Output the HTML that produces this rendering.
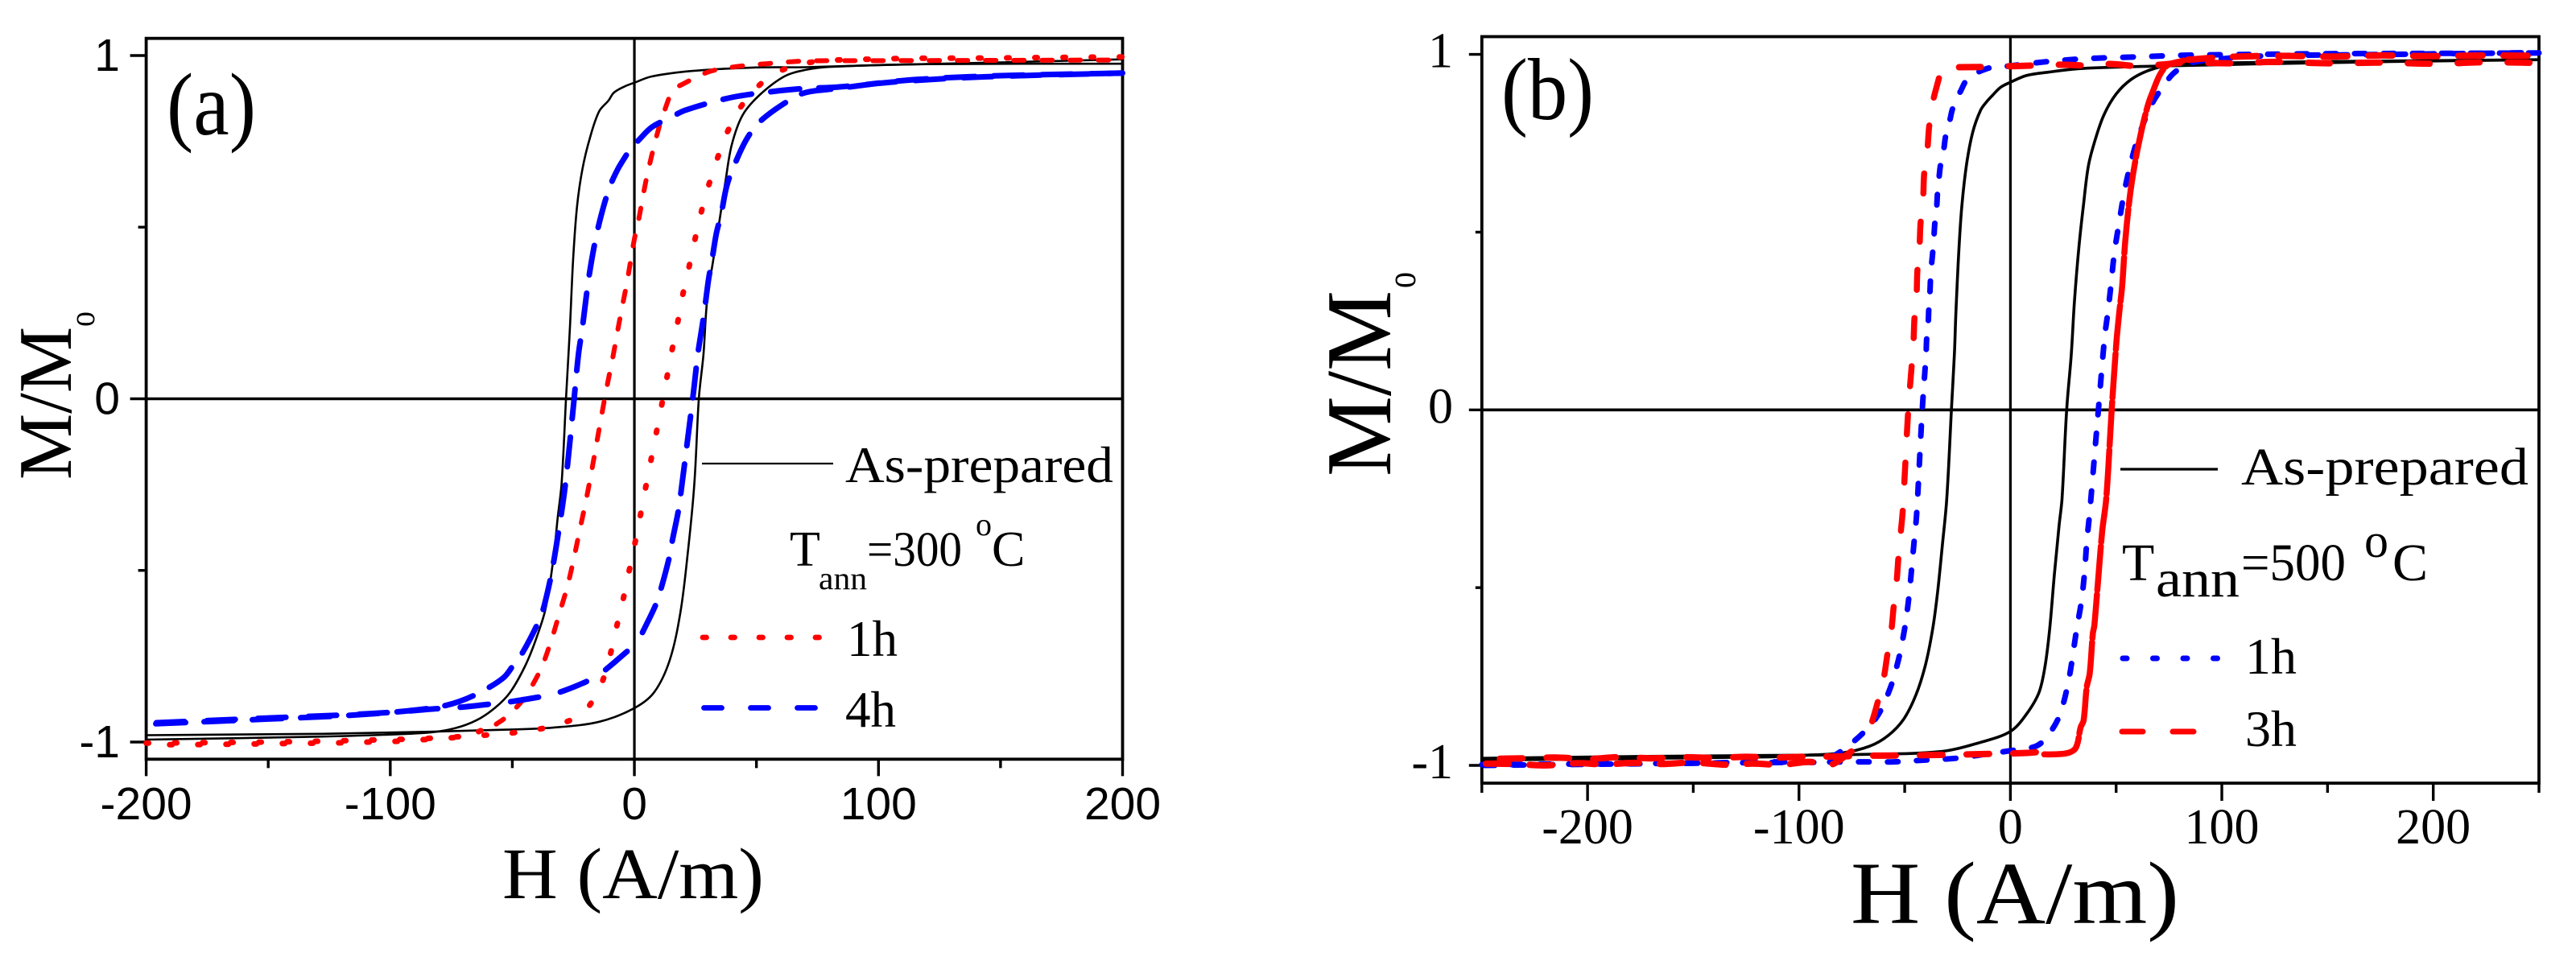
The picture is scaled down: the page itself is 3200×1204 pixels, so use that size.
<!DOCTYPE html>
<html>
<head>
<meta charset="utf-8">
<title>Hysteresis loops</title>
<style>
html,body{margin:0;padding:0;background:#fff;}
svg{display:block;}
text{fill:#000;font-family:"Liberation Serif",serif;}
.sans{font-family:"Liberation Sans",sans-serif;}
</style>
</head>
<body>
<svg id="figure" xmlns="http://www.w3.org/2000/svg" width="3200" height="1204" viewBox="0 0 3200 1204">
<rect x="0" y="0" width="3200" height="1204" fill="#fff"/>
<g id="panelA"></g>
<g id="panelB"></g>

<g>
<text x="207" y="167" font-size="110" textLength="111" lengthAdjust="spacingAndGlyphs">(a)</text>
<text x="624" y="1116" font-size="90" textLength="325" lengthAdjust="spacingAndGlyphs">H (A/m)</text>
<text transform="translate(88,596) rotate(-90)" font-size="94" textLength="190" lengthAdjust="spacingAndGlyphs">M/M</text>
<text transform="translate(117,406) rotate(-90)" font-size="46" textLength="19" lengthAdjust="spacingAndGlyphs">o</text>
<text x="1050" y="599" font-size="64" textLength="333" lengthAdjust="spacingAndGlyphs">As-prepared</text>
<text x="981" y="703" font-size="62">T</text>
<text x="1017" y="732" font-size="40" textLength="60" lengthAdjust="spacingAndGlyphs">ann</text>
<text x="1077" y="703" font-size="61" textLength="118" lengthAdjust="spacingAndGlyphs">=300</text>
<text x="1212" y="665" font-size="40">o</text>
<text x="1232" y="703" font-size="62">C</text>
<text x="1052" y="815" font-size="63">1h</text>
<text x="1050" y="903" font-size="63">4h</text>
</g>

<g>
<text x="1865" y="148" font-size="109" textLength="115" lengthAdjust="spacingAndGlyphs">(b)</text>
<text x="2299" y="1147" font-size="110" textLength="408" lengthAdjust="spacingAndGlyphs">H (A/m)</text>
<text transform="translate(1727,592) rotate(-90)" font-size="115" textLength="231" lengthAdjust="spacingAndGlyphs">M/M</text>
<text transform="translate(1758,358) rotate(-90)" font-size="52" textLength="20" lengthAdjust="spacingAndGlyphs">o</text>
<text x="2784" y="602" font-size="66" textLength="357" lengthAdjust="spacingAndGlyphs">As-prepared</text>
<text x="2636" y="721" font-size="66">T</text>
<text x="2678" y="741" font-size="66" textLength="104" lengthAdjust="spacingAndGlyphs">ann</text>
<text x="2784" y="721" font-size="66" textLength="130" lengthAdjust="spacingAndGlyphs">=500</text>
<text x="2937" y="692" font-size="60">o</text>
<text x="2972" y="721" font-size="66">C</text>
<text x="2789" y="837" font-size="64">1h</text>
<text x="2789" y="927" font-size="64">3h</text>
</g>
</svg>

<script>
/* ---------- panel (a) tick data ---------- */
var aXMajor = [-200,-100,0,100,200];
var aXMinor = [-150,-50,50,150];
var aYMajor = [-1,0,1];
var aYMinor = [-0.5,0.5];
var aXLabels = ["-200","-100","0","100","200"];
var aYLabels = ["-1","0","1"];

/* ---------- panel (a) series ---------- */
var aPreparedDownH = [200,150,100,70,48.8,23.5,7.1,0,-4,-8.4,-10.6,-14.4,-18.1,-21.3,-23.5,-25.1,-26.4,-27,-28,-29.8,-31.4,-33.3,-36.4,-40.2,-44.6,-50.9,-57.2,-64.8,-73.6,-83.7,-102.7,-128,-165,-200];
var aPreparedDownM = [0.989,0.98,0.972,0.966,0.965,0.955,0.939,0.921,0.91,0.892,0.869,0.838,0.763,0.669,0.56,0.404,0.208,0.13,0,-0.245,-0.346,-0.472,-0.612,-0.698,-0.776,-0.855,-0.901,-0.937,-0.96,-0.972,-0.979,-0.984,-0.989,-0.993];
var aPreparedUpH = [-200,-128,-83.7,-52.2,-33.3,-14.4,0,8.1,14.5,18.9,22,24.6,26.4,28.3,29.8,32.3,34.9,37.4,39.9,44.3,51.3,61.4,70,80,120,200];
var aPreparedUpM = [-0.98,-0.976,-0.97,-0.964,-0.958,-0.941,-0.901,-0.855,-0.761,-0.62,-0.44,-0.245,0,0.13,0.287,0.404,0.521,0.638,0.74,0.826,0.885,0.939,0.958,0.967,0.975,0.976];

var a1hTopH = [18.5,29.8,39.9,53.8,70,100,150,200];
var a1hTopM = [0.912,0.951,0.966,0.976,0.984,0.985,0.986,0.987];
var a1hSteepH = [14,11.9,10.2,7.1,4.6,1.3,0,-3,-6.2,-8.6,-12.2,-18.8,-22.6,-25,-27.6,-31,-34.5,-38.9,-45.8,-52.5,-56.6];
var a1hSteepM = [0.873,0.83,0.794,0.709,0.63,0.505,0.466,0.341,0.224,0.13,0,-0.26,-0.39,-0.472,-0.55,-0.632,-0.714,-0.796,-0.878,-0.927,-0.948];
var a1hLowH = [-62.9,-67.3,-74.3,-86.3,-97.7,-109,-120,-150,-175,-200];
var a1hLowM = [-0.967,-0.979,-0.987,-0.993,-0.998,-1,-1.002,-1.005,-1.007,-1.008];
var a1hUpH = [-200,-150,-124.2,-112.9,-101.5,-89.9,-78.4,-55.5,-44.3,-32.7,-21.3,-14,-10.3,-7.7,-4.9,-2.5,-0.1,2.1,4.3,11.7,15.3,17.6,19.7,22.2,24.7,27.3,30.5,34.1,38.6,45,55.7,70,100,150,200];
var a1hUpM = [-1.003,-1,-0.997,-0.995,-0.993,-0.991,-0.987,-0.977,-0.968,-0.952,-0.916,-0.838,-0.757,-0.677,-0.594,-0.513,-0.433,-0.353,-0.27,0,0.137,0.217,0.299,0.378,0.46,0.541,0.623,0.702,0.785,0.864,0.939,0.978,0.99,0.993,0.996];

var a4hTopH = [1.4,7.1,14.7,21,39.9,58.9,70,83,110,144,200];
var a4hTopM = [0.751,0.791,0.819,0.841,0.878,0.897,0.904,0.908,0.925,0.938,0.949];
var a4hSteepH = [-3.3,-6.8,-10.2,-13.8,-16.5,-18.8,-21.3,-22.9,-24.7,-28.2,-30.7,-33.9,-37,-38.9,-45.6,-49.7,-53.5,-62.6,-71.8,-81.2,-98.9,-119,-150,-200];
var a4hSteepM = [0.71,0.669,0.615,0.529,0.443,0.346,0.208,0.13,0,-0.245,-0.37,-0.507,-0.604,-0.644,-0.737,-0.777,-0.812,-0.853,-0.882,-0.899,-0.913,-0.923,-0.933,-0.948];
var a4hLowH = [-3,-13.8,-21.3,-33.3,-40.8,-52.2,-59.8,-71.8,-81.2,-98.9,-119,-150,-200];
var a4hLowM = [-0.736,-0.8,-0.829,-0.861,-0.871,-0.884,-0.89,-0.899,-0.903,-0.913,-0.921,-0.93,-0.945];
var a4hUpH = [3.3,8.9,11.2,14.3,15.6,18,19,23.9,26,27.9,28.9,30.4,31.7,33.6,35.5,37.8,40.5,45.8,51.5,62.6,70,83.3,110,143.9,200];
var a4hUpM = [-0.681,-0.598,-0.546,-0.462,-0.411,-0.327,-0.276,0,0.13,0.217,0.267,0.348,0.4,0.482,0.536,0.619,0.673,0.754,0.808,0.866,0.892,0.904,0.927,0.94,0.949];

/* ---------- panel (b) tick data ---------- */
var bXMajor = [-200,-100,0,100,200];
var bXMinor = [-250,-150,-50,50,150,250];
var bYMajor = [-1,0,1];
var bYMinor = [-0.5,0.5];
var bXLabels = ["-200","-100","0","100","200"];
var bYLabels = ["-1","0","1"];

/* ---------- panel (b) series ---------- */
var bPreparedDownH = [250,180,115,90.7,61.6,32.4,17.9,7.7,0.1,-4.5,-8.3,-11.5,-14.1,-17.8,-20.7,-22.9,-24.3,-25.8,-26.5,-27.9,-30.1,-32.3,-34.5,-36.7,-40.3,-44.7,-50.5,-57.8,-66.5,-79.6,-98.5,-113,-180,-250];
var bPreparedDownM = [0.985,0.98,0.973,0.97,0.966,0.96,0.95,0.941,0.922,0.908,0.886,0.865,0.843,0.782,0.692,0.579,0.458,0.269,0.156,0,-0.251,-0.387,-0.516,-0.614,-0.72,-0.802,-0.87,-0.916,-0.946,-0.965,-0.972,-0.976,-0.981,-0.985];
var bPreparedUpH = [-250,-180,-113,-69.4,-33,-14,0.1,7.7,13.5,16.4,18.6,20.8,23,24.4,26.6,28.8,30.3,32.4,34.6,36.8,39.7,44.1,49.9,57.2,65.9,76.1,90.7,150,250];
var bPreparedUpM = [-0.98,-0.975,-0.972,-0.969,-0.961,-0.935,-0.904,-0.855,-0.795,-0.72,-0.614,-0.463,-0.327,-0.251,0,0.156,0.307,0.458,0.579,0.684,0.752,0.828,0.888,0.93,0.956,0.97,0.975,0.98,0.985];

var b1hDownH = [250,200,150,115,84,60,35.4,17.9,-5.4,-11.2,-19.9,-23.6,-27.2,-28.7,-30.6,-31.6,-33.1,-33.8,-34.5,-34.9,-35.7,-36.2,-36.7,-37.4,-37.8,-38.1,-38.6,-38.9,-39.6,-39.9,-41.7,-44.4,-45.7,-46.9,-48.3,-50.2,-53,-57.1,-63.6,-75.2,-88.3,-98.5,-113,-150,-200,-250];
var b1hDownM = [1.004,1.003,1.002,1,0.998,0.993,0.988,0.98,0.964,0.96,0.933,0.896,0.85,0.813,0.771,0.73,0.688,0.65,0.609,0.567,0.527,0.484,0.446,0.401,0.367,0.326,0.284,0.243,0.201,0.156,0,-0.297,-0.38,-0.459,-0.542,-0.621,-0.704,-0.787,-0.867,-0.938,-0.987,-0.991,-0.99,-0.994,-0.997,-1];
var b1hUpH = [-250,-200,-150,-113,-69.4,-54.9,-40.3,-25.8,-11.2,1.9,12.1,17.2,23,27.4,31.4,33.6,35.1,36.1,37.5,41.6,44.5,46.3,47.7,49.2,51.4,53.6,56.5,60.1,66.7,73.2,77.6,84.8,97.9,115,180,250];
var b1hUpM = [-0.998,-0.996,-0.994,-0.992,-0.99,-0.99,-0.985,-0.98,-0.968,-0.957,-0.946,-0.92,-0.863,-0.765,-0.614,-0.538,-0.455,-0.372,-0.289,0,0.201,0.284,0.36,0.443,0.526,0.605,0.684,0.76,0.858,0.918,0.949,0.975,0.986,0.995,1,1.005];

var b3hTopDownH = [-24.3,-12,0.4,12.8,23.7,36.8,47,60.8,71,83.4,105.2,125,150,175,200,225,250];
var b3hTopDownM = [0.964,0.965,0.967,0.969,0.971,0.969,0.973,0.967,0.971,0.977,0.975,0.979,0.975,0.977,0.974,0.978,0.976];
var b3hSteepDownH = [-33.8,-36.7,-38.4,-39.3,-40.8,-41.3,-42.5,-43,-44,-44.4,-45.4,-45.9,-48.3,-50.9,-52,-53,-53.9,-55.2,-56.3,-58.2,-60,-62.9,-66.2];
var b3hSteepDownM = [0.933,0.866,0.798,0.73,0.662,0.594,0.526,0.458,0.39,0.322,0.258,0.186,0,-0.281,-0.353,-0.417,-0.489,-0.553,-0.621,-0.689,-0.757,-0.825,-0.893];
var b3hLowDownH = [-75.2,-85.4,-95,-108,-122,-135,-150,-165,-178,-192,-205,-220,-235,-250];
var b3hLowDownM = [-0.961,-0.999,-0.99,-0.998,-0.995,-0.998,-0.992,-0.996,-0.993,-0.997,-0.994,-1,-0.996,-0.995];
var b3hLowUpH = [12,8,-12,-30,-50,-70,-82,-95,-110,-125,-140,-155,-170,-185,-200,-215,-230,-250];
var b3hLowUpM = [-0.963,-0.965,-0.968,-0.97,-0.972,-0.973,-0.975,-0.975,-0.978,-0.976,-0.979,-0.977,-0.98,-0.977,-0.982,-0.978,-0.98,-0.982];
var b3hSteepUpH = [16,20.1,27.3,31,33.2,34.6,36.1,37.5,39,39.7,41.5,43.4,45.3,47.9,50.2,51.4,52.8,54.3,56.5,58.6,60.8,63.7,66.6,73.2,81.9];
var b3hSteepUpM = [-0.969,-0.969,-0.965,-0.95,-0.893,-0.874,-0.78,-0.742,-0.629,-0.606,-0.478,-0.342,-0.251,0,0.194,0.269,0.345,0.473,0.601,0.684,0.752,0.828,0.884,0.964,0.983];
var b3hTopUpH = [84,100,125,150,175,200,225,250];
var b3hTopUpM = [0.985,0.992,0.996,0.994,0.997,0.995,0.997,0.996];

var NS = "http://www.w3.org/2000/svg";

function scale(d0, d1, r0, r1) {
  return function (v) { return r0 + (v - d0) * (r1 - r0) / (d1 - d0); };
}
function el(tag, parent) {
  var e = document.createElementNS(NS, tag);
  parent.appendChild(e);
  return e;
}
/* Smooth path through data points: tangent from neighbours, handle length limited by the adjoining segment. */
function curvePath(hs, ms, sx, sy) {
  var pts = [], i;
  for (i = 0; i < hs.length; i++) pts.push([sx(hs[i]), sy(ms[i])]);
  function dir(k) {
    var a = pts[Math.max(k - 1, 0)], b = pts[Math.min(k + 1, pts.length - 1)];
    var dx = b[0] - a[0], dy = b[1] - a[1], n = Math.sqrt(dx * dx + dy * dy) || 1;
    return [dx / n, dy / n];
  }
  var d = "M" + pts[0][0].toFixed(1) + " " + pts[0][1].toFixed(1);
  for (i = 0; i < pts.length - 1; i++) {
    var p = pts[i], q = pts[i + 1];
    var len = Math.sqrt((q[0] - p[0]) * (q[0] - p[0]) + (q[1] - p[1]) * (q[1] - p[1])) / 3;
    var t0 = dir(i), t1 = dir(i + 1);
    d += "C" + (p[0] + t0[0] * len).toFixed(1) + " " + (p[1] + t0[1] * len).toFixed(1) + " " +
         (q[0] - t1[0] * len).toFixed(1) + " " + (q[1] - t1[1] * len).toFixed(1) + " " +
         q[0].toFixed(1) + " " + q[1].toFixed(1);
  }
  return d;
}
function drawCurve(g, name, hs, ms, sx, sy, color, width, dash) {
  var p = el("path", g);
  
  
  p.setAttribute("d", curvePath(hs, ms, sx, sy));
  p.setAttribute("fill", "none");
  p.setAttribute("stroke", color);
  p.setAttribute("stroke-width", width);
  p.setAttribute("stroke-linejoin", "round");
  p.setAttribute("stroke-linecap", "round");
  if (dash) p.setAttribute("stroke-dasharray", dash);
}
function drawLine(g, name, x1, y1, x2, y2, color, width, dash) {
  var l = el("line", g);
  
  
  l.setAttribute("x1", x1);
  l.setAttribute("y1", y1);
  l.setAttribute("x2", x2);
  l.setAttribute("y2", y2);
  l.setAttribute("stroke", color);
  l.setAttribute("stroke-width", width);
  if (dash) {
    l.setAttribute("stroke-dasharray", dash);
    l.setAttribute("stroke-linecap", "round");
  }
}
function drawLabel(g, name, x, y, str, size, anchor, cls) {
  var t = el("text", g);
  
  
  t.setAttribute("x", x);
  t.setAttribute("y", y);
  t.setAttribute("font-size", size);
  t.setAttribute("text-anchor", anchor);
  if (cls) t.setAttribute("class", cls);
  t.textContent = str;
}
function drawAxes(g, o) {
  var top = o.sy(1.05), bot = o.sy(-1.05), lef = o.sx(o.xMin), rig = o.sx(o.xMax), i;
  drawLine(g, "zero-line-horizontal", lef, o.sy(0), rig, o.sy(0), "#000", 3.6);
  drawLine(g, "zero-line-vertical", o.sx(0), top, o.sx(0), bot, "#000", 3.2);
  for (i = 0; i < o.xMajor.length; i++) {
    drawLine(g, "x-tick-major", o.sx(o.xMajor[i]), bot, o.sx(o.xMajor[i]), bot + o.xMajorLen, "#000", 3.4);
    drawLabel(g, "x-tick-label", o.sx(o.xMajor[i]), o.xLabelY, o.xLabels[i], o.tickSize, "middle", o.tickClass);
  }
  for (i = 0; i < o.xMinor.length; i++) {
    drawLine(g, "x-tick-minor", o.sx(o.xMinor[i]), bot, o.sx(o.xMinor[i]), bot + o.xMinorLen, "#000", 3.4);
  }
  for (i = 0; i < o.yMajor.length; i++) {
    drawLine(g, "y-tick-major", lef - o.yMajorLen, o.sy(o.yMajor[i]), lef, o.sy(o.yMajor[i]), "#000", 3.4);
    drawLabel(g, "y-tick-label", o.yLabelX, o.sy(o.yMajor[i]) + o.yLabelDy, o.yLabels[i], o.tickSize, "end", o.tickClass);
  }
  for (i = 0; i < o.yMinor.length; i++) {
    drawLine(g, "y-tick-minor", lef - o.yMinorLen, o.sy(o.yMinor[i]), lef, o.sy(o.yMinor[i]), "#000", 3.4);
  }
  var r = el("rect", g);
  
  
  r.setAttribute("x", lef);
  r.setAttribute("y", top);
  r.setAttribute("width", rig - lef);
  r.setAttribute("height", bot - top);
  r.setAttribute("fill", "none");
  r.setAttribute("stroke", "#000");
  r.setAttribute("stroke-width", 3.8);
}

/* panel (a) */
var ax = scale(-200, 200, 181.6, 1394.5);
var ay = scale(-1, 1, 922, 69);
var ga = document.getElementById("panelA");
drawAxes(ga, {sx: ax, sy: ay, xMin: -200, xMax: 200, xMajor: aXMajor, xMinor: aXMinor, yMajor: aYMajor, yMinor: aYMinor,
  xLabels: aXLabels, yLabels: aYLabels, xMajorLen: 21, xMinorLen: 11, yMajorLen: 20, yMinorLen: 10,
  xLabelY: 1018, yLabelX: 149, yLabelDy: 19, tickSize: 57, tickClass: "sans"});
drawCurve(ga, "as-prepared-descending", aPreparedDownH, aPreparedDownM, ax, ay, "#000", 2.6);
drawCurve(ga, "as-prepared-ascending", aPreparedUpH, aPreparedUpM, ax, ay, "#000", 2.6);
drawCurve(ga, "anneal-1h-top", a1hTopH, a1hTopM, ax, ay, "#f00", 6, "13 22");
drawCurve(ga, "anneal-1h-descending", a1hSteepH, a1hSteepM, ax, ay, "#f00", 6, "13 22");
drawCurve(ga, "anneal-1h-low-plateau", a1hLowH, a1hLowM, ax, ay, "#f00", 7, "3 32");
drawCurve(ga, "anneal-1h-ascending", a1hUpH, a1hUpM, ax, ay, "#f00", 7, "3 32");
drawCurve(ga, "anneal-4h-top", a4hTopH, a4hTopM, ax, ay, "#00f", 7, "36 24");
drawCurve(ga, "anneal-4h-descending", a4hSteepH, a4hSteepM, ax, ay, "#00f", 7, "37 23");
drawCurve(ga, "anneal-4h-low", a4hLowH, a4hLowM, ax, ay, "#00f", 7, "35 28");
drawCurve(ga, "anneal-4h-ascending", a4hUpH, a4hUpM, ax, ay, "#00f", 7, "37 23");
drawLine(ga, "legend-line-as-prepared", 872, 576, 1035, 576, "#000", 2.2);
drawLine(ga, "legend-line-1h", 873, 792, 1022, 792, "#f00", 6.8, "4.5 30.5");
drawLine(ga, "legend-line-4h", 874.5, 879.5, 1014, 879.5, "#00f", 6.8, "22 36");

/* panel (b) */
var bx = scale(-250, 250, 1840.8, 3154);
var by = scale(-1, 1, 951, 67.6);
var gb = document.getElementById("panelB");
drawAxes(gb, {sx: bx, sy: by, xMin: -250, xMax: 250, xMajor: bXMajor, xMinor: bXMinor, yMajor: bYMajor, yMinor: bYMinor,
  xLabels: bXLabels, yLabels: bYLabels, xMajorLen: 22, xMinorLen: 12, yMajorLen: 16, yMinorLen: 8,
  xLabelY: 1048, yLabelX: 1805, yLabelDy: 16, tickSize: 62, tickClass: ""});
drawCurve(gb, "as-prepared-descending", bPreparedDownH, bPreparedDownM, bx, by, "#000", 3.6);
drawCurve(gb, "as-prepared-ascending", bPreparedUpH, bPreparedUpM, bx, by, "#000", 3.6);
drawCurve(gb, "anneal-1h-descending", b1hDownH, b1hDownM, bx, by, "#00f", 7, "13 23");
drawCurve(gb, "anneal-1h-ascending", b1hUpH, b1hUpM, bx, by, "#00f", 7, "13 23");
drawCurve(gb, "anneal-3h-top-descending", b3hTopDownH, b3hTopDownM, bx, by, "#f00", 8, "27 35");
drawCurve(gb, "anneal-3h-descending", b3hSteepDownH, b3hSteepDownM, bx, by, "#f00", 7.5, "25 35");
drawCurve(gb, "anneal-3h-low-descending", b3hLowDownH, b3hLowDownM, bx, by, "#f00", 8, "28 26");
drawCurve(gb, "anneal-3h-low-ascending", b3hLowUpH, b3hLowUpM, bx, by, "#f00", 8, "28 30");
drawCurve(gb, "anneal-3h-ascending", b3hSteepUpH, b3hSteepUpM, bx, by, "#f00", 7.5, "55 5");
drawCurve(gb, "anneal-3h-top-ascending", b3hTopUpH, b3hTopUpM, bx, by, "#f00", 8, "30 26");
drawLine(gb, "legend-line-as-prepared", 2634, 583, 2755, 583, "#000", 3.2);
drawLine(gb, "legend-line-1h", 2637, 818, 2758, 818, "#00f", 7, "5 32.5");
drawLine(gb, "legend-line-3h", 2636, 909, 2726, 909, "#f00", 7, "26 37");
</script>
</body>
</html>
